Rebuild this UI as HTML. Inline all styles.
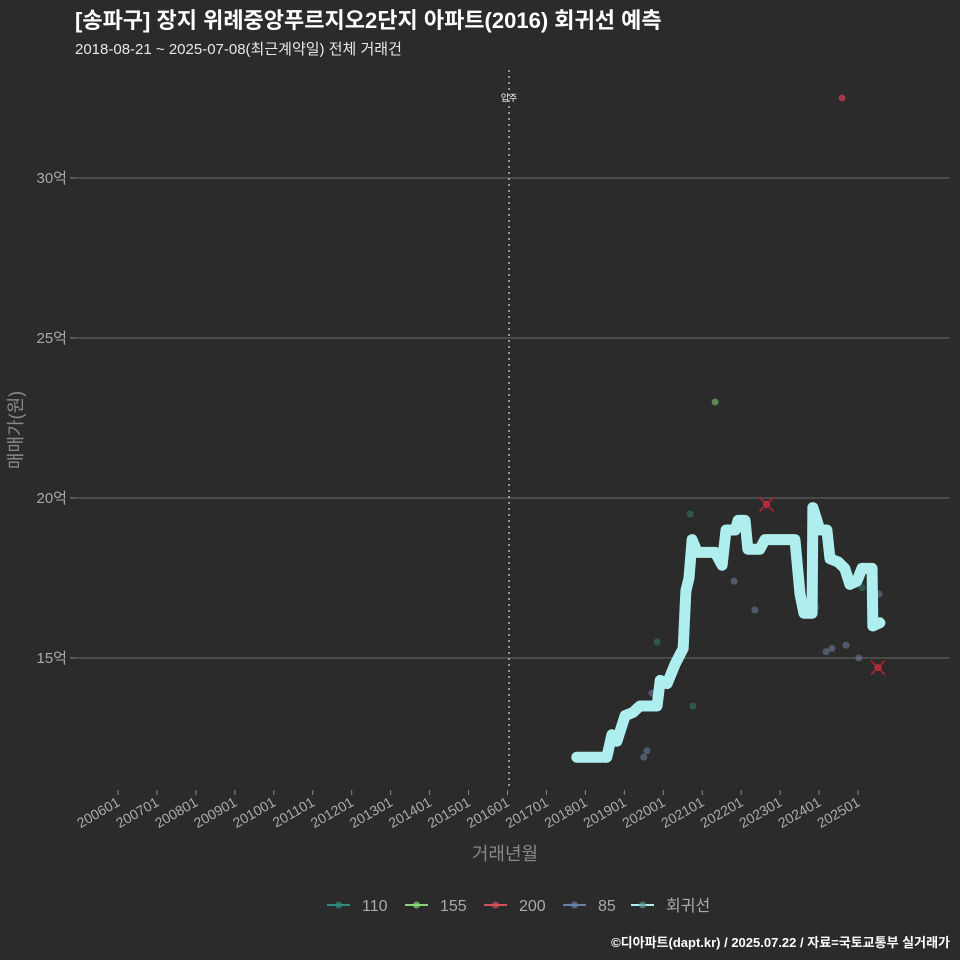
<!DOCTYPE html>
<html><head><meta charset="utf-8"><style>
html,body{margin:0;background:#2b2b2b;overflow:hidden;width:960px;height:960px;}
svg{display:block;}
svg text{font-family:"Liberation Sans","Noto Sans CJK KR",sans-serif;}
</style></head><body>
<svg width="960" height="960" viewBox="0 0 960 960">
<rect width="960" height="960" fill="#2b2b2b"/>
<text x="75" y="28" fill="#ffffff" font-size="22" font-weight="bold">[송파구] 장지 위례중앙푸르지오2단지 아파트(2016) 회귀선 예측</text>
<text x="75" y="54" fill="#e8e8e8" font-size="15">2018-08-21 ~ 2025-07-08(최근계약일) 전체 거래건</text>
<text transform="translate(22,430) rotate(-90)" text-anchor="middle" fill="#888" font-size="18">매매가(원)</text>
<text x="505" y="860" text-anchor="middle" fill="#888" font-size="18">거래년월</text>
<g id="grid"></g><g id="xt"></g><g id="marks"></g>
<g id="legend"></g>
<text x="950" y="947" text-anchor="end" fill="#fff" font-size="13" font-weight="bold">©디아파트(dapt.kr) / 2025.07.22 / 자료=국토교통부 실거래가</text>
</svg>
<script>
const yTicks=[15,20,25,30];
const xTickYears=[2006,2007,2008,2009,2010,2011,2012,2013,2014,2015,2016,2017,2018,2019,2020,2021,2022,2023,2024,2025];
const regT=[2017.78,2018.55,2018.68,2018.81,2019.02,2019.22,2019.40,2019.84,2019.92,2020.10,2020.30,2020.51,2020.58,2020.66,2020.74,2020.87,2021.33,2021.51,2021.61,2021.85,2021.92,2022.10,2022.17,2022.48,2022.61,2023.38,2023.51,2023.61,2023.82,2023.84,2024.02,2024.20,2024.28,2024.49,2024.66,2024.79,2024.97,2025.10,2025.36,2025.38,2025.56];
const regV=[11.9,11.9,12.6,12.4,13.2,13.3,13.5,13.5,14.3,14.2,14.8,15.3,17.1,17.5,18.7,18.3,18.3,17.9,19.0,19.0,19.3,19.3,18.4,18.4,18.7,18.7,17.0,16.4,16.4,19.7,19.0,19.0,18.1,18.0,17.8,17.3,17.4,17.8,17.8,16.0,16.1];
const p85T=[2019.50,2019.58,2019.71,2021.82,2022.35,2024.18,2024.33,2024.69,2025.02,2025.54];
const p85V=[11.9,12.1,13.9,17.4,16.5,15.2,15.3,15.4,15.0,17.0];
const p110T=[2020.69,2019.84,2020.76,2025.10,2023.92];
const p110V=[19.5,15.5,13.5,17.2,16.6];
const p155T=[2021.33];const p155V=[23.0];
const p200T=[2022.65,2025.51,2024.59];const p200V=[19.8,14.7,32.5];
const NS='http://www.w3.org/2000/svg';
const X=t=>118+(t-2006)*38.95, Y=v=>658-(v-15)*32;
function mk(tag,a,p){const e=document.createElementNS(NS,tag);for(const k in a)e.setAttribute(k,a[k]);p.appendChild(e);return e;}
const grid=document.getElementById('grid'),xt=document.getElementById('xt'),marks=document.getElementById('marks');
yTicks.forEach(v=>{
 const l=mk('line',{x1:75,x2:950,y1:Y(v),y2:Y(v),stroke:'#6a6a6a','stroke-width':1},grid);
 
 
 mk('line',{x1:70,x2:75,y1:Y(v),y2:Y(v),stroke:'#888'},grid);
 const t=mk('text',{x:67,y:Y(v)+5,'text-anchor':'end',fill:'#aaa','font-size':15},grid);t.textContent=v+'억';
 
 
});
xTickYears.forEach(yr=>{
 const x=X(yr);
 mk('line',{x1:x,x2:x,y1:790,y2:795,stroke:'#888'},xt);
 const t=mk('text',{transform:`translate(${x+3},${805}) rotate(-30)`,'text-anchor':'end',fill:'#aaa','font-size':14},xt);t.textContent=yr+'01';
 
 
});
const vl=mk('line',{x1:X(2016.04),x2:X(2016.04),y1:70,y2:790,stroke:'#bbb','stroke-dasharray':'2,4','stroke-width':1.5},marks);


const vt=mk('text',{x:X(2016.04),y:101,'text-anchor':'middle',fill:'#fff','font-size':9},marks);vt.textContent='입주';


function pts(T,V,col,name){T.forEach((t,i)=>{const c=mk('circle',{cx:X(t),cy:Y(V[i]),r:3.5,fill:col,'fill-opacity':0.6},marks);
 
 });}
pts(p85T,p85V,'#6a7a9a','point-85');
pts(p110T,p110V,'#2f7a66','point-110');
pts(p155T,p155V,'#7cc46a','point-155');
const rl=mk('polyline',{points:regT.map((t,i)=>X(t)+','+Y(regV[i])).join(' '),fill:'none',stroke:'#aeeeee','stroke-width':11,'stroke-linejoin':'round','stroke-linecap':'round'},marks);


p200T.forEach((t,i)=>{const x=X(t),y=Y(p200V[i]);
 const g=mk('g',{},marks);
 
 
 mk('circle',{cx:x,cy:y,r:3.5,fill:'#c04050','fill-opacity':0.8},g);
 if(i<2){mk('line',{x1:x-7,y1:y-7,x2:x+7,y2:y+7,stroke:'#c02030','stroke-width':1.5},g);mk('line',{x1:x-7,y1:y+7,x2:x+7,y2:y-7,stroke:'#c02030','stroke-width':1.5},g);}
});
const leg=[['110','#2f8a80'],['155','#8ad47a'],['200','#d05060'],['85','#6a80a8'],['회귀선','#aeeeee']];
const lx=[327,405,484,563,631];
const lg=document.getElementById('legend');
leg.forEach((d,i)=>{const g=mk('g',{},lg);
 
 
 mk('line',{x1:lx[i],x2:lx[i]+23,y1:905,y2:905,stroke:d[1],'stroke-width':2},g);
 mk('circle',{cx:lx[i]+11.5,cy:905,r:3.5,fill:i==4?'#5a9a98':d[1],'fill-opacity':0.7},g);
 const t=mk('text',{x:lx[i]+35,y:911,fill:'#aaa','font-size':16},g);t.textContent=d[0];});
</script>
</body></html>
